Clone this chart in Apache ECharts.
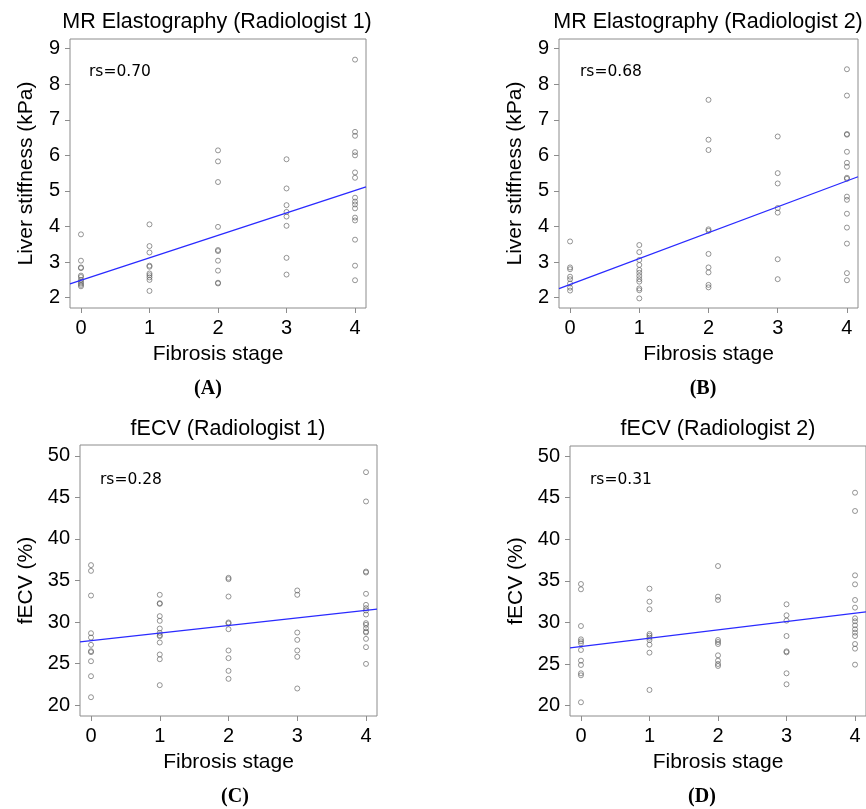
<!DOCTYPE html>
<html>
<head>
<meta charset="utf-8">
<script src="https://cdn.jsdelivr.net/npm/echarts@6/dist/echarts.min.js"></script>
<style>
  html, body { margin: 0; padding: 0; background: #fff; }
  #main { width: 866px; height: 809px; }
</style>
</head>
<body>
<div id="main"></div>
<script>
// values per fibrosis stage (index = stage 0..4)
var mreR1 = [
    [3.78, 3.04, 2.85, 2.83, 2.62, 2.58, 2.50, 2.45, 2.40, 2.36, 2.32],
    [4.06, 3.45, 3.27, 2.90, 2.87, 2.68, 2.63, 2.57, 2.50, 2.19],
    [6.14, 5.83, 5.25, 3.99, 3.34, 3.31, 3.04, 2.76, 2.42, 2.40],
    [5.89, 5.07, 4.60, 4.41, 4.28, 4.02, 3.12, 2.65],
    [8.69, 6.66, 6.55, 6.09, 6.00, 5.52, 5.37, 4.81, 4.70, 4.62, 4.51, 4.25, 4.17, 3.63, 2.90, 2.49]
];
var mreR2 = [
    [3.58, 2.85, 2.80, 2.59, 2.52, 2.40, 2.28, 2.20],
    [3.48, 3.28, 3.06, 2.92, 2.78, 2.70, 2.61, 2.52, 2.45, 2.26, 2.21, 1.98],
    [7.56, 6.44, 6.15, 3.92, 3.88, 3.23, 2.85, 2.71, 2.36, 2.29],
    [6.53, 5.50, 5.21, 4.52, 4.39, 3.08, 2.52],
    [8.42, 7.68, 6.60, 6.58, 6.10, 5.79, 5.68, 5.37, 5.34, 4.84, 4.75, 4.36, 3.97, 3.52, 2.69, 2.49]
];
var ecvR1 = [
    [36.85, 36.16, 33.19, 28.66, 28.14, 27.26, 26.50, 26.38, 25.29, 23.49, 20.96],
    [33.28, 32.27, 32.19, 30.71, 30.15, 29.22, 28.70, 28.42, 28.30, 27.54, 26.10, 25.53, 22.41],
    [35.32, 35.16, 33.07, 29.95, 29.83, 29.14, 26.58, 25.66, 24.13, 23.17],
    [33.80, 33.28, 28.74, 27.86, 26.58, 25.82, 22.01],
    [48.03, 44.51, 36.08, 35.96, 33.40, 32.07, 31.67, 31.39, 30.91, 29.87, 29.67, 29.26, 28.86, 28.74, 27.98, 26.98, 24.97]
];
var ecvR2 = [
    [34.62, 33.98, 29.57, 27.97, 27.73, 27.49, 26.69, 25.41, 24.89, 23.89, 23.65, 20.41],
    [34.06, 32.50, 31.58, 28.61, 28.41, 28.17, 27.89, 27.33, 26.37, 21.89],
    [36.78, 33.10, 32.70, 27.89, 27.65, 27.41, 26.05, 25.41, 25.01, 24.77],
    [32.18, 30.86, 30.22, 28.37, 26.53, 26.41, 23.89, 22.57],
    [45.59, 43.39, 35.66, 34.58, 32.70, 31.78, 30.50, 30.14, 29.66, 29.18, 28.78, 28.37, 27.41, 26.85, 24.93]
];

// fitted lines (intercept, slope)
var fitIntercept = [2.49, 2.37, 27.76, 27.10];
var fitSlope = [0.63, 0.728, 0.91, 1.00];

var panelTitles = ['MR Elastography (Radiologist 1)', 'MR Elastography (Radiologist 2)',
    'fECV (Radiologist 1)', 'fECV (Radiologist 2)'];
var rsLabels = ['rs=0.70', 'rs=0.68', 'rs=0.28', 'rs=0.31'];
var captions = ['A', 'B', 'C', 'D'];
var yNames = ['Liver stiffness (kPa)', 'Liver stiffness (kPa)', 'fECV (%)', 'fECV (%)'];
var xTicks = [0, 1, 2, 3, 4];
var yTicksMre = [2, 3, 4, 5, 6, 7, 8, 9];
var yTicksEcv = [20, 25, 30, 35, 40, 45, 50];

var panels = [mreR1, mreR2, ecvR1, ecvR2];

var grids = [
    {left: 70, top: 39, width: 296, height: 269},
    {left: 559, top: 39, width: 299, height: 269},
    {left: 80, top: 445, width: 297, height: 271},
    {left: 570, top: 446, width: 297, height: 270}
];
var yRange = [[1.71, 9.27], [1.71, 9.27], [18.7, 51.3], [18.76, 51.2]];
var xMin = -0.16, xMax = 4.16;

var font = '"Liberation Sans", Arial, sans-serif';
var frame = '#8c8c8c';

var chart = echarts.init(document.getElementById('main'), null, {renderer: 'canvas'});

var option = {
    animation: false,
    backgroundColor: '#fff',
    grid: [],
    xAxis: [],
    yAxis: [],
    series: [],
    graphic: []
};

panels.forEach(function (panel, i) {
    var g = grids[i];
    option.grid.push({
        left: g.left, top: g.top, width: g.width, height: g.height,
        show: true, borderColor: frame, borderWidth: 1, backgroundColor: 'transparent'
    });
    option.xAxis.push({
        gridIndex: i, type: 'value', min: xMin, max: xMax,
        name: 'Fibrosis stage', nameLocation: 'middle', nameGap: 36,
        nameTextStyle: {color: '#000', fontSize: 21, fontFamily: font},
        axisLine: {show: false, onZero: false},
        axisTick: {show: true, length: 5, lineStyle: {color: frame}, customValues: xTicks},
        axisLabel: {color: '#000', fontSize: 20, fontFamily: font, margin: 10, customValues: xTicks},
        splitLine: {show: false}
    });
    var yt = i < 2 ? yTicksMre : yTicksEcv;
    option.yAxis.push({
        gridIndex: i, type: 'value', min: yRange[i][0], max: yRange[i][1],
        name: yNames[i], nameLocation: 'middle', nameGap: i < 2 ? 33 : 43,
        nameTextStyle: {color: '#000', fontSize: 21, fontFamily: font},
        axisLine: {show: false, onZero: false},
        axisTick: {show: true, length: 5, lineStyle: {color: frame}, customValues: yt},
        axisLabel: {color: '#000', fontSize: 20, fontFamily: font, margin: 10, customValues: yt},
        splitLine: {show: false}
    });

    var pts = [];
    panel.forEach(function (vals, stage) {
        vals.forEach(function (v) { pts.push([stage, v]); });
    });
    option.series.push({
        type: 'scatter', xAxisIndex: i, yAxisIndex: i,
        data: pts, symbol: 'circle', symbolSize: 5,
        itemStyle: {color: 'rgba(0,0,0,0)', borderColor: '#5a5a5a', borderWidth: 0.8},
        silent: true
    });
    option.series.push({
        type: 'line', xAxisIndex: i, yAxisIndex: i,
        data: [[xMin, fitIntercept[i] + fitSlope[i] * xMin], [xMax, fitIntercept[i] + fitSlope[i] * xMax]],
        showSymbol: false, symbol: 'none', clip: true, silent: true,
        lineStyle: {color: '#2a2aff', width: 1.3}
    });
});

// panel titles, rs labels and captions
var titlePos = [[217, 22], [708, 22], [228, 429], [718, 429]];
var rsPos = [[89, 72], [580, 72], [100, 480], [590, 480]];
var capPos = [[208, 389], [703, 389], [235, 797], [702, 797]];

for (var k = 0; k < 4; k++) {
    option.graphic.push({
        type: 'text', x: titlePos[k][0], y: titlePos[k][1], silent: true,
        style: {text: panelTitles[k], font: '21.5px ' + font, fill: '#000',
            align: 'center', verticalAlign: 'middle', textAlign: 'center', textVerticalAlign: 'middle'}
    });
    option.graphic.push({
        type: 'text', x: rsPos[k][0], y: rsPos[k][1], silent: true,
        style: {text: rsLabels[k], font: '15.5px "DejaVu Sans", Verdana, sans-serif', fill: '#000',
            align: 'left', verticalAlign: 'middle', textAlign: 'left', textVerticalAlign: 'middle'}
    });
    option.graphic.push({
        type: 'text', x: capPos[k][0], y: capPos[k][1], silent: true,
        style: {text: '(' + captions[k] + ')', font: 'bold 20px "Liberation Serif", "Times New Roman", serif', fill: '#000',
            align: 'center', verticalAlign: 'middle', textAlign: 'center', textVerticalAlign: 'middle'}
    });
}

chart.setOption(option);
</script>
</body>
</html>
